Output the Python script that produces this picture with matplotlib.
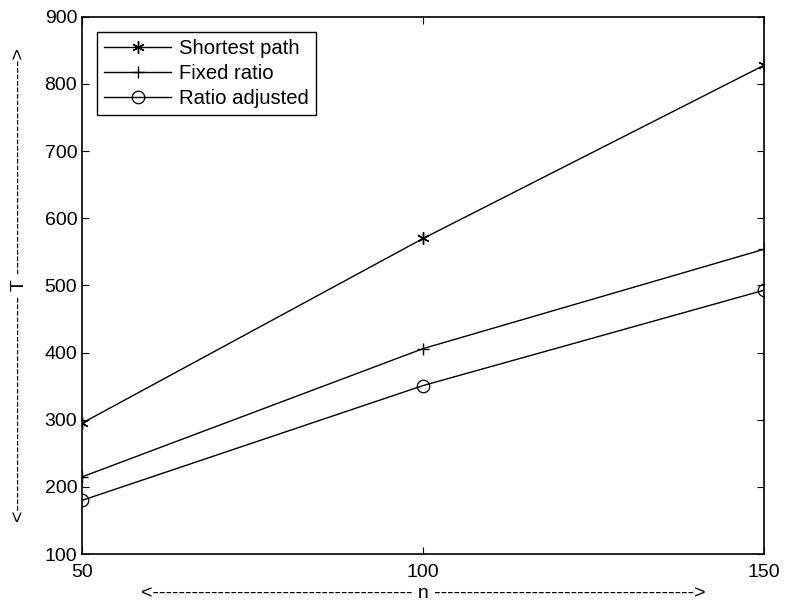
import matplotlib
matplotlib.use('Agg')
import matplotlib.pyplot as plt

# 데이터
n = [50, 100, 150]
shortest = [295, 570, 828]
fixed = [215, 406, 554]
adjusted = [180, 351, 493]
labels = ['Shortest path', 'Fixed ratio', 'Ratio adjusted']

plt.rcParams['font.family'] = ['Liberation Sans', 'DejaVu Sans']
plt.rcParams['font.size'] = 14

fig = plt.figure(figsize=(7.85, 6.01), dpi=100)
ax = fig.add_axes([0.1045, 0.078, 0.869, 0.894])

ax.plot(n, shortest, 'k-', marker=(6, 2, 0), ms=9, mew=1, lw=1, label=labels[0])
ax.plot(n, fixed, 'k-', marker='+', ms=9, mew=1, lw=1, label=labels[1])
ax.plot(n, adjusted, 'k-', marker='o', ms=9, mfc='none', mew=0.9, lw=1, label=labels[2])

ax.set_xlim(50, 150)
ax.set_ylim(100, 900)
ax.set_xticks([50, 100, 150])
ax.set_yticks(range(100, 901, 100))
ax.tick_params(direction='in', top=True, right=True, length=5, labelsize=14)
ax.tick_params(axis='x', pad=7)
ax.tick_params(axis='y', pad=3.5)
for s in ax.spines.values():
    s.set_linewidth(1.2)

ax.set_xlabel('<' + '-' * 40 + ' n ' + '-' * 40 + '>', fontsize=14, labelpad=3)
ax.set_ylabel('<' + '-' * 33 + ' T ' + '-' * 33 + '>', fontsize=14, labelpad=12)

leg = ax.legend(loc='upper left', fancybox=False, edgecolor='black', framealpha=1,
                fontsize=14.6, handlelength=3.3, borderpad=0.35, labelspacing=0.3,
                handletextpad=0.4, borderaxespad=0.75)
leg.get_frame().set_linewidth(1)

fig.savefig('out.png', dpi=100)
